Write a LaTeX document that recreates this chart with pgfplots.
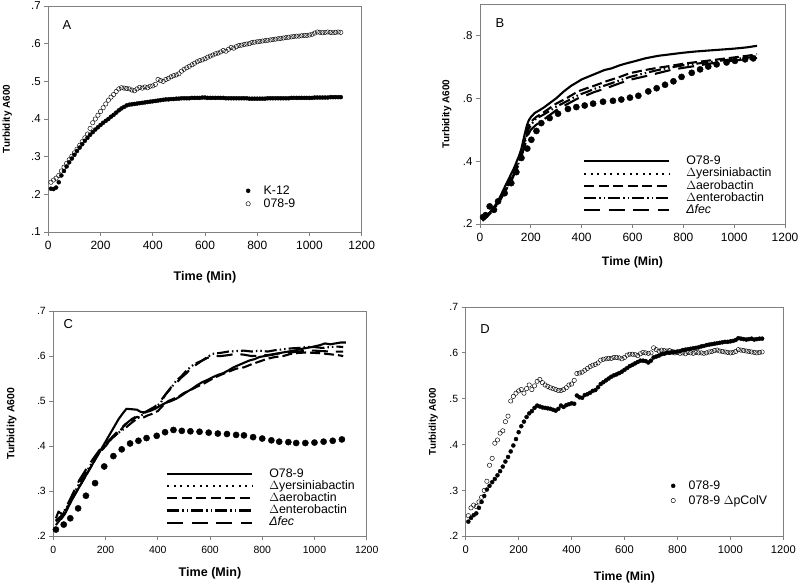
\documentclass[border=0pt]{standalone}
\usepackage{fontspec}
\setmainfont{Liberation Sans}
\usepackage{pgfplots}
\pgfplotsset{compat=1.18}
\definecolor{frame}{gray}{0.5}
\newcommand{\fs}[1]{\fontsize{#1}{#1}\selectfont}

\pgfplotsset{
  panel/.style={
    scale only axis, anchor=south west,
    xmin=0, xmax=1200,
    xtick={0,200,400,600,800,1000,1200},
    xticklabels={0,200,400,600,800,1000,1200},
    tick pos=left, tick align=outside, major tick length=4bp,
    axis line style={frame, line width=0.8bp},
    tick style={frame, line width=0.8bp},
    xlabel={\textbf{Time (Min)}},
    ylabel={\textbf{Turbidity A600}},
    legend cell align=left,
  },
  ln/.style={black, no markers, line width=2.1bp, line join=round},
  sol/.style={ln,
    legend image code/.code={\draw[black, line width=2.1bp] (0bp,0bp) -- (85bp,0bp); \path[draw=none] (0bp,0bp) -- (102bp,0bp);}},
  aer/.style={ln, dash pattern=on 10bp off 4bp,
    legend image code/.code={\draw[black, line width=2.1bp, dash pattern=on 10bp off 4.5bp] (0bp,0bp) -- (85bp,0bp); \path[draw=none] (0bp,0bp) -- (102bp,0bp);}},
  ent/.style={ln, dash pattern=on 12bp off 3bp on 1.5bp off 3bp on 1.5bp off 3bp,
    legend image code/.code={\draw[black, line width=2.1bp, dash pattern=on 12bp off 3bp on 1.5bp off 3bp on 1.5bp off 3bp] (0bp,0bp) -- (85bp,0bp); \path[draw=none] (0bp,0bp) -- (102bp,0bp);}},
  fec/.style={ln, dash pattern=on 16bp off 8bp,
    legend image code/.code={\draw[black, line width=2.1bp, dash pattern=on 16bp off 8.5bp] (0bp,0bp) -- (85bp,0bp); \path[draw=none] (0bp,0bp) -- (102bp,0bp);}},
  yer/.style={black, only marks, mark=*, mark size=3.1bp,
    legend image code/.code={\draw[black, line width=2bp, dash pattern=on 2bp off 4.5bp] (0bp,0bp) -- (85bp,0bp); \path[draw=none] (0bp,0bp) -- (102bp,0bp);}},
  markleg/.style={legend image code/.code={\draw[##1] plot coordinates {(8.5bp,0bp)}; \path[draw=none] (0bp,0bp) -- (23bp,0bp);}},
  filled/.style={black, only marks, mark=*, mark size=2bp, markleg},
  hollow/.style={black, only marks, mark=o, mark size=2.2bp, mark options={line width=0.45bp, fill=white}, markleg},
}

\begin{document}
\begin{tikzpicture}
\useasboundingbox (0,0) rectangle (800bp,584bp);

% ---------------- Panel A ----------------
\begin{axis}[panel, at={(48.3bp,352bp)}, width=313.4bp, height=226bp,
  ymin=0.1, ymax=0.7, ytick={0.1,0.2,0.3,0.4,0.5,0.6,0.7},
  yticklabels={.1,.2,.3,.4,.5,.6,.7},
  xticklabel style={font=\fs{12}, yshift=-2bp}, yticklabel style={font=\fs{11.5}},
  xlabel style={font=\fs{12.6}, at={(axis description cs:0.5,-0.199)}, anchor=center},
  ylabel style={font=\fs{10}, at={(axis description cs:-0.131,0.5)}, anchor=center},
  legend style={at={(axis description cs:0.61,0.212)}, anchor=north west, draw=none, fill=none,
    inner sep=0pt, font=\fs{12.4}, nodes={inner sep=1bp, text height=9bp, text depth=2bp}, row sep=0pt},
]
\addplot[filled] coordinates {
(10,.215)(20,.214)(30,.218)(40,.232)(50,.25)(60,.262)(70,.274)(80,.285)(90,.295)(100,.305)
(110,.315)(120,.324)(130,.333)(140,.342)(150,.35)(160,.358)(170,.365)(180,.372)(190,.378)(200,.384)
(210,.39)(220,.395)(230,.4)(240,.406)(250,.411)(260,.417)(270,.423)(280,.428)(290,.432)(300,.436)
(310,.438)(320,.439)(330,.44)(340,.441)(350,.442)(360,.443)(370,.444)(380,.445)(390,.446)(400,.447)
(410,.448)(420,.449)(430,.45)(440,.451)(450,.452)(460,.452)(470,.453)(480,.453)(490,.454)(500,.454)
(510,.455)(520,.455)(530,.455)(540,.455)(550,.456)(560,.456)(570,.456)(580,.456)(590,.457)(600,.457)
(610,.456)(620,.456)(630,.456)(640,.456)(650,.456)(660,.456)(670,.456)(680,.455)(690,.455)(700,.455)
(710,.455)(720,.455)(730,.455)(740,.455)(750,.455)(760,.455)(770,.454)(780,.454)(790,.454)(800,.454)
(810,.454)(820,.454)(830,.454)(840,.455)(850,.455)(860,.455)(870,.455)(880,.455)(890,.455)(900,.455)
(910,.455)(920,.455)(930,.456)(940,.456)(950,.456)(960,.456)(970,.456)(980,.456)(990,.456)(1000,.456)
(1010,.456)(1020,.457)(1030,.457)(1040,.457)(1050,.457)(1060,.457)(1070,.457)(1080,.458)(1090,.458)(1100,.458)
(1110,.458)(1120,.458)};
\addlegendentry{K-12}
\addplot[hollow] coordinates {
(10,.232)(20,.238)(30,.243)(40,.25)(50,.262)(60,.272)(70,.282)(80,.292)(90,.301)(100,.31)
(110,.32)(120,.33)(130,.34)(140,.35)(150,.36)(160,.375)(170,.39)(180,.4)(190,.41)(200,.42)
(210,.43)(220,.44)(230,.45)(240,.458)(250,.465)(260,.473)(270,.48)(280,.483)(290,.482)(300,.481)
(310,.48)(320,.477)(330,.475)(340,.48)(350,.484)(360,.482)(370,.485)(380,.483)(390,.487)(400,.488)
(410,.492)(420,.505)(430,.502)(440,.5)(450,.505)(460,.508)(470,.512)(480,.515)(490,.517)(500,.52)
(510,.527)(520,.532)(530,.536)(540,.54)(550,.544)(560,.548)(570,.552)(580,.555)(590,.557)(600,.56)
(610,.564)(620,.567)(630,.57)(640,.573)(650,.575)(660,.578)(670,.582)(680,.58)(690,.585)(700,.59)
(710,.588)(720,.592)(730,.595)(740,.596)(750,.598)(760,.599)(770,.6)(780,.603)(790,.604)(800,.605)
(810,.606)(820,.607)(830,.608)(840,.609)(850,.61)(860,.611)(870,.612)(880,.613)(890,.614)(900,.615)
(910,.616)(920,.617)(930,.618)(940,.619)(950,.62)(960,.62)(970,.621)(980,.622)(990,.622)(1000,.623)
(1010,.625)(1020,.628)(1030,.631)(1040,.63)(1050,.629)(1060,.63)(1070,.631)(1080,.63)(1090,.629)(1100,.63)
(1110,.631)(1120,.63)};
\addlegendentry{078-9}
\node[font=\fs{13}] at (axis cs:71.6,0.65) {A};
\end{axis}

% ---------------- Panel B ----------------
\begin{axis}[panel, at={(480bp,360bp)}, width=305bp, height=220bp,
  ymin=0.2, ymax=0.9, ytick={0.2,0.4,0.6,0.8},
  yticklabels={.2,.4,.6,.8},
  xticklabel style={font=\fs{12}, yshift=-2bp}, yticklabel style={font=\fs{11.5}},
  xlabel style={font=\fs{12.3}, at={(axis description cs:0.5,-0.173)}, anchor=center},
  ylabel style={font=\fs{10}, at={(axis description cs:-0.109,0.5)}, anchor=center},
  legend style={at={(axis description cs:0.337,0.313)}, anchor=north west, draw=none, fill=none,
    inner sep=0pt, font=\fs{12.4}, nodes={inner sep=0.3bp, text height=9bp, text depth=2.6bp}, row sep=0pt},
]
\addplot[sol] coordinates {
(10,.212)(20,.22)(30,.228)(40,.238)(50,.248)(60,.26)(70,.272)(80,.288)(90,.305)(100,.322)(110,.338)
(123,.36)(135,.38)(145,.4)(155,.42)(163,.44)(170,.465)(177,.49)(185,.515)(192,.53)(200,.54)(215,.553)
(230,.56)(250,.57)(275,.585)(300,.6)(330,.622)(359,.64)(380,.65)(400,.66)(430,.67)(460,.68)(490,.69)
(517,.695)(550,.705)(580,.712)(609,.718)(650,.727)(700,.735)(750,.74)(800,.745)(850,.749)(900,.752)
(950,.755)(1000,.758)(1050,.762)(1090,.767)};
\addlegendentry{O78-9}
\addplot[yer] coordinates {
(12,.222)(22,.228)(38,.256)(55,.245)(71,.272)(97,.298)(123,.33)(143,.365)(163,.41)(186,.44)(202,.468)
(222,.496)(241,.521)(274,.537)(307,.551)(346,.566)(379,.572)(412,.577)(445,.583)(484,.589)(523,.592)
(556,.596)(590,.602)(623,.608)(662,.622)(695,.632)(728,.643)(761,.654)(793,.668)(833,.681)(866,.692)
(898,.701)(931,.708)(970,.714)(1003,.719)(1043,.724)(1075,.727)};
\addlegendentry{$\Delta$yersiniabactin}
\addplot[aer] coordinates {
(10,.215)(30,.228)(50,.245)(75,.272)(100,.31)(125,.35)(150,.395)(165,.43)(180,.48)(190,.51)(200,.525)
(220,.54)(250,.555)(280,.572)(300,.583)(340,.6)(386,.622)(420,.632)(450,.64)(500,.655)(550,.668)
(590,.68)(650,.69)(700,.697)(750,.703)(800,.71)(850,.715)(900,.72)(950,.725)(1000,.73)(1050,.735)(1090,.74)};
\addlegendentry{$\Delta$aerobactin}
\addplot[ent] coordinates {
(10,.21)(30,.225)(50,.242)(75,.27)(100,.308)(125,.345)(150,.39)(165,.425)(180,.47)(190,.5)(200,.515)
(220,.535)(250,.548)(280,.563)(300,.573)(340,.59)(386,.61)(420,.62)(450,.63)(500,.643)(550,.657)
(590,.668)(650,.68)(700,.69)(750,.698)(800,.705)(850,.71)(900,.715)(950,.72)(1000,.725)(1050,.729)(1090,.733)};
\addlegendentry{$\Delta$enterobactin}
\addplot[fec] coordinates {
(10,.22)(30,.23)(50,.245)(75,.27)(100,.305)(125,.34)(150,.385)(165,.42)(180,.46)(190,.485)(200,.5)
(220,.515)(250,.532)(280,.55)(300,.562)(340,.58)(386,.6)(420,.61)(450,.62)(500,.633)(550,.648)
(590,.659)(650,.67)(700,.68)(750,.69)(800,.697)(850,.703)(900,.71)(950,.715)(1000,.72)(1050,.724)(1090,.728)};
\addlegendentry{\textit{Δfec}}
\node[font=\fs{13}] at (axis cs:78.7,0.84) {B};
\end{axis}

% ---------------- Panel C ----------------
\begin{axis}[panel, at={(53.3bp,47.7bp)}, width=313.4bp, height=225.3bp,
  ymin=0.2, ymax=0.7, ytick={0.2,0.3,0.4,0.5,0.6,0.7},
  yticklabels={.2,.3,.4,.5,.6,.7},
  xticklabel style={font=\fs{10.5}, yshift=-2bp}, yticklabel style={font=\fs{10.5}},
  xlabel style={font=\fs{12.6}, at={(axis description cs:0.5,-0.166)}, anchor=center},
  ylabel style={font=\fs{10.5}, at={(axis description cs:-0.133,0.5)}, anchor=center},
  legend style={at={(axis description cs:0.359,0.305)}, anchor=north west, draw=none, fill=none,
    inner sep=0pt, font=\fs{12.4}, nodes={inner sep=0.3bp, text height=9bp, text depth=2.6bp}, row sep=0pt},
]
\addplot[sol] coordinates {
(10,.233)(20,.24)(30,.238)(45,.25)(60,.268)(80,.29)(100,.31)(120,.33)(140,.35)(160,.37)(180,.39)
(200,.41)(215,.425)(230,.44)(250,.46)(265,.472)(280,.483)(300,.482)(320,.481)(335,.476)(350,.475)
(370,.478)(390,.483)(410,.49)(430,.496)(450,.5)(470,.505)(490,.512)(510,.52)(530,.527)(550,.535)
(570,.542)(590,.547)(610,.553)(630,.558)(650,.562)(670,.568)(690,.575)(710,.58)(730,.585)(750,.59)
(770,.593)(790,.598)(810,.6)(840,.603)(870,.607)(900,.61)(930,.613)(960,.617)(990,.62)(1020,.624)
(1040,.628)(1060,.626)(1080,.628)(1100,.63)(1120,.63)};
\addlegendentry{O78-9}
\addplot[yer] coordinates {
(10,.215)(40,.226)(65,.24)(95,.262)(125,.29)(160,.318)(195,.355)(230,.378)(262,.393)(294,.406)
(326,.412)(357,.418)(396,.423)(428,.431)(460,.436)(492,.434)(525,.433)(560,.432)(595,.43)(630,.428)
(665,.427)(700,.425)(730,.424)(765,.42)(800,.417)(835,.413)(865,.41)(900,.409)(930,.407)(965,.407)
(1000,.408)(1035,.41)(1070,.412)(1105,.415)};
\addlegendentry{$\Delta$yersiniabactin}
\addplot[aer] coordinates {
(10,.235)(30,.245)(50,.26)(75,.285)(100,.31)(125,.335)(150,.36)(175,.385)(200,.4)(225,.418)(250,.43)
(275,.448)(300,.458)(320,.465)(340,.462)(360,.468)(380,.472)(400,.478)(420,.49)(440,.5)(460,.505)
(480,.51)(500,.518)(520,.523)(550,.532)(580,.54)(610,.55)(640,.558)(670,.565)(700,.572)(730,.575)
(760,.582)(790,.588)(820,.594)(850,.598)(880,.6)(910,.605)(940,.607)(970,.608)(1000,.607)(1030,.606)
(1060,.604)(1090,.602)(1110,.6)};
\addlegendentry{$\Delta$aerobactin}
\addplot[ent] coordinates {
(10,.24)(20,.255)(30,.25)(50,.262)(75,.29)(100,.318)(125,.342)(150,.365)(175,.385)(200,.402)(225,.418)
(250,.43)(275,.44)(300,.452)(330,.465)(360,.478)(390,.487)(410,.495)(430,.515)(450,.528)(470,.545)
(490,.555)(510,.568)(530,.578)(550,.585)(570,.59)(590,.598)(610,.605)(640,.607)(670,.61)(700,.611)
(730,.612)(760,.61)(790,.612)(820,.61)(850,.613)(880,.615)(910,.617)(940,.618)(970,.62)(1000,.62)
(1030,.618)(1060,.62)(1090,.621)(1110,.62)};
\addlegendentry{$\Delta$enterobactin}
\addplot[fec] coordinates {
(10,.225)(30,.24)(50,.265)(75,.295)(100,.325)(125,.348)(150,.37)(175,.39)(200,.405)(225,.42)(250,.435)
(275,.448)(300,.46)(330,.47)(360,.478)(390,.488)(410,.5)(430,.515)(450,.53)(470,.54)(490,.552)
(510,.562)(530,.575)(550,.582)(570,.59)(590,.596)(610,.6)(640,.6)(670,.602)(700,.605)(730,.603)
(760,.6)(790,.601)(820,.602)(850,.605)(880,.607)(910,.608)(940,.61)(970,.612)(1000,.612)(1030,.611)
(1060,.61)(1090,.61)(1110,.61)};
\addlegendentry{\textit{Δfec}}
\node[font=\fs{13}] at (axis cs:57,0.672) {C};
\end{axis}

% ---------------- Panel D ----------------
\begin{axis}[panel, at={(465.7bp,47.7bp)}, width=317.6bp, height=229.3bp,
  ymin=0.2, ymax=0.7, ytick={0.2,0.3,0.4,0.5,0.6,0.7},
  yticklabels={.2,.3,.4,.5,.6,.7},
  xticklabel style={font=\fs{11.2}, yshift=-2bp}, yticklabel style={font=\fs{10.5}},
  xlabel style={font=\fs{12.3}, at={(axis description cs:0.5,-0.177)}, anchor=center},
  ylabel style={font=\fs{9.8}, at={(axis description cs:-0.102,0.5)}, anchor=center},
  legend style={at={(axis description cs:0.626,0.253)}, anchor=north west, draw=none, fill=none,
    inner sep=0pt, font=\fs{12.4}, nodes={inner sep=1bp, text height=10bp, text depth=2.7bp}, row sep=0pt},
]
\addplot[filled] coordinates {
(10,.232)(20,.24)(30,.246)(40,.25)(50,.262)(60,.275)(70,.288)(80,.302)(90,.31)(100,.318)
(110,.325)(120,.333)(130,.342)(140,.352)(150,.363)(160,.373)(170,.385)(180,.398)(190,.412)(200,.427)
(210,.44)(220,.45)(230,.46)(240,.468)(250,.473)(260,.48)(270,.485)(280,.483)(290,.481)(300,.48)
(310,.479)(320,.478)(330,.476)(340,.474)(350,.478)(360,.485)(370,.482)(380,.486)(390,.488)(400,.49)
(410,.489)(420,.507)(430,.503)(440,.502)(450,.508)(460,.51)(470,.513)(480,.517)(490,.519)(500,.525)
(510,.532)(520,.536)(530,.54)(540,.544)(550,.548)(560,.551)(570,.553)(580,.556)(590,.559)(600,.563)
(610,.567)(620,.571)(630,.574)(640,.577)(650,.58)(660,.583)(670,.583)(680,.582)(690,.579)(700,.583)
(710,.59)(720,.592)(730,.594)(740,.597)(750,.598)(760,.6)(770,.6)(780,.601)(790,.602)(800,.603)
(810,.604)(820,.606)(830,.607)(840,.608)(850,.609)(860,.61)(870,.611)(880,.612)(890,.614)(900,.615)
(910,.617)(920,.618)(930,.619)(940,.62)(950,.621)(960,.622)(970,.623)(980,.624)(990,.624)(1000,.625)
(1010,.626)(1020,.628)(1030,.632)(1040,.631)(1050,.63)(1060,.629)(1070,.63)(1080,.631)(1090,.629)(1100,.63)
(1110,.631)(1120,.631)};
\addlegendentry{078-9}
\addplot[hollow] coordinates {
(10,.245)(20,.262)(30,.268)(40,.265)(50,.275)(60,.285)(70,.3)(80,.32)(90,.355)(100,.37)
(110,.403)(120,.41)(130,.425)(140,.43)(150,.45)(160,.462)(170,.495)(180,.505)(190,.512)(200,.517)
(210,.52)(220,.512)(230,.522)(240,.53)(250,.52)(260,.528)(270,.538)(280,.542)(290,.535)(300,.53)
(310,.527)(320,.524)(330,.522)(340,.52)(350,.518)(360,.518)(370,.52)(380,.524)(390,.53)(400,.532)
(410,.54)(420,.555)(430,.556)(440,.558)(450,.562)(460,.566)(470,.57)(480,.573)(490,.575)(500,.578)
(510,.584)(520,.586)(530,.587)(540,.588)(550,.588)(560,.59)(570,.59)(580,.589)(590,.587)(600,.59)
(610,.595)(620,.597)(630,.597)(640,.596)(650,.594)(660,.598)(670,.601)(680,.6)(690,.599)(700,.6)
(710,.611)(720,.607)(730,.604)(740,.606)(750,.605)(760,.604)(770,.605)(780,.603)(790,.6)(800,.601)
(810,.599)(820,.6)(830,.598)(840,.601)(850,.6)(860,.599)(870,.601)(880,.6)(890,.6)(900,.599)
(910,.6)(920,.602)(930,.603)(940,.605)(950,.606)(960,.604)(970,.603)(980,.602)(990,.601)(1000,.6)
(1010,.601)(1020,.603)(1030,.607)(1040,.606)(1050,.605)(1060,.604)(1070,.603)(1080,.602)(1090,.601)(1100,.6)
(1110,.601)(1120,.602)};
\addlegendentry{078-9 $\Delta$pColV}
\node[font=\fs{13}] at (axis cs:73,0.653) {D};
\end{axis}
\end{tikzpicture}
\end{document}
